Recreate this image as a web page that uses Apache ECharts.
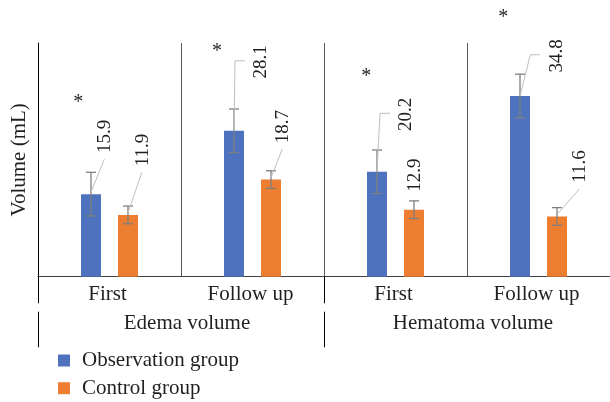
<!DOCTYPE html>
<html><head><meta charset="utf-8">
<script src="https://cdn.jsdelivr.net/npm/echarts@6/dist/echarts.min.js"></script>
<style>html,body{margin:0;padding:0;background:#fff}#c{width:610px;height:402px}</style>
</head><body><div id="c"></div>
<script>
// ---- data ----
const categories = ['First', 'Follow up', 'First', 'Follow up'];
const groups = ['Edema volume', 'Hematoma volume'];
const seriesNames = ['Observation group', 'Control group'];
const observation = [15.9, 28.1, 20.2, 34.8];
const control = [11.9, 18.7, 12.9, 11.6];
const observationErr = [4.2, 4.2, 4.2, 4.2];
const controlErr = [1.7, 1.7, 1.7, 1.7];
const significance = ['*', '*', '*', '*'];
const sigLevel = [34.35, 44.1, 39.2, 50.7];
const yMax = 45;

// ---- layout / style ----
const FONT = '"Liberation Serif", "Times New Roman", serif';
const TEXT = '#231f20';
const BLUE = '#4e72bd', ORANGE = '#ed7d31';
const barOffset = 18.5;
const obsLabelPos = [[14.5, -57.8], [27.5, -69], [29.5, -57.5], [36.8, -40.2]];
const obsLeader = ['slant', 'elbow', 'elbow', 'elbow'];
const ctrlLabelPos = [[14.8, -65], [12.3, -53], [1.5, -34.7], [23.5, -50]];
const ctrlLeader = ['slant', 'slant', 'none', 'slant'];
const sigDx = [-12.7, -16.9, -10.7, -16.7];

function annotSeries(values, errs, offset, labelPos, leader) {
  return {
    type: 'custom', z: 5, silent: true, clip: false,
    data: values.map((v, i) => [i, v, errs[i]]),
    renderItem(params, api) {
      const i = params.dataIndex;
      const ci = api.value(0), v = api.value(1), e = api.value(2);
      const c = api.coord([ci, v]);
      const x = c[0] + offset, yTop = c[1];
      const yHi = api.coord([ci, v + e])[1];
      const yLo = api.coord([ci, v - e])[1];
      const cap = 5;
      const eb = { stroke: '#7f7f7f', lineWidth: 1.3 };
      const ch = [
        { type: 'line', shape: { x1: x, y1: yHi, x2: x, y2: yLo }, style: eb },
        { type: 'line', shape: { x1: x - cap, y1: yHi, x2: x + cap, y2: yHi }, style: eb },
        { type: 'line', shape: { x1: x - cap, y1: yLo, x2: x + cap, y2: yLo }, style: eb }
      ];
      const lx = x + labelPos[i][0], ly = yTop + labelPos[i][1];
      const halfLen = 16.5, halfH = 7.5;
      const ls = { stroke: '#bfbfbf', lineWidth: 1, fill: null };
      if (leader[i] === 'slant') {
        ch.push({ type: 'line', shape: { x1: x, y1: yTop - 2, x2: lx - 1, y2: ly + halfLen + 6 }, style: ls });
      } else if (leader[i] === 'elbow') {
        const left = lx - halfH;
        ch.push({ type: 'polyline', shape: { points: [[x, yTop], [left - 19, ly - 1], [left - 9, ly - 1]] }, style: ls });
      }
      ch.push({
        type: 'text', x: lx, y: ly, rotation: Math.PI / 2,
        style: { text: v.toFixed(1), font: '19px ' + FONT, fill: TEXT, align: 'center', verticalAlign: 'middle' }
      });
      return { type: 'group', children: ch };
    }
  };
}

const chart = echarts.init(document.getElementById('c'), null, { renderer: 'canvas' });
chart.setOption({
  animation: false,
  backgroundColor: '#fff',
  grid: { left: 38, top: 43, width: 577, height: 233.7, containLabel: false },
  legend: {
    data: seriesNames, orient: 'vertical', left: 58, top: 350, padding: 0,
    itemWidth: 12, itemHeight: 12, itemGap: 6.7, icon: 'rect',
    textStyle: { fontFamily: FONT, fontSize: 21, color: TEXT, padding: [0, 0, 0, 7] }
  },
  xAxis: [
    {
      type: 'category', data: categories, position: 'bottom',
      axisLine: { show: true, lineStyle: { color: '#404040', width: 1 } },
      axisTick: { show: false },
      axisLabel: { fontFamily: FONT, fontSize: 21, color: TEXT, margin: 7, padding: [0, 4, 0, 0] },
      splitLine: { show: true, interval: 0, lineStyle: { color: '#595959', width: 1 } }
    },
    {
      type: 'category', data: groups, position: 'bottom', offset: 0,
      axisLine: { show: false },
      axisTick: { show: true, length: 26.6, lineStyle: { color: '#000', width: 1 } },
      axisLabel: { show: false }, splitLine: { show: false }
    },
    {
      type: 'category', data: groups, position: 'bottom', offset: 35,
      axisLine: { show: false },
      axisTick: { show: true, length: 35.6, lineStyle: { color: '#000', width: 1 } },
      axisLabel: { fontFamily: FONT, fontSize: 21, color: TEXT, margin: 1, padding: [0, 0, 0, 12] },
      splitLine: { show: false }
    }
  ],
  yAxis: {
    type: 'value', min: 0, max: yMax,
    axisLine: { show: true, lineStyle: { color: '#000', width: 1 } },
    axisTick: { show: false }, axisLabel: { show: false }, splitLine: { show: false },
    name: 'Volume (mL)', nameLocation: 'middle', nameRotate: 90, nameGap: 8,
    nameTextStyle: { fontFamily: FONT, fontSize: 21, color: TEXT }
  },
  series: [
    { name: seriesNames[0], type: 'bar', data: observation, barWidth: 20, barGap: '85%', itemStyle: { color: BLUE } },
    { name: seriesNames[1], type: 'bar', data: control, barWidth: 20, barGap: '85%', itemStyle: { color: ORANGE } },
    annotSeries(observation, observationErr, -barOffset, obsLabelPos, obsLeader),
    annotSeries(control, controlErr, barOffset, ctrlLabelPos, ctrlLeader),
    {
      type: 'custom', z: 6, silent: true, clip: false,
      data: sigLevel.map((v, i) => [i, v]),
      renderItem(params, api) {
        const i = params.dataIndex;
        const c = api.coord([api.value(0), api.value(1)]);
        return {
          type: 'text', x: c[0] - barOffset + sigDx[i], y: c[1] + 4,
          style: { text: significance[i], font: '20px ' + FONT, fill: TEXT, align: 'center', verticalAlign: 'middle' }
        };
      }
    }
  ]
});
</script></body></html>
